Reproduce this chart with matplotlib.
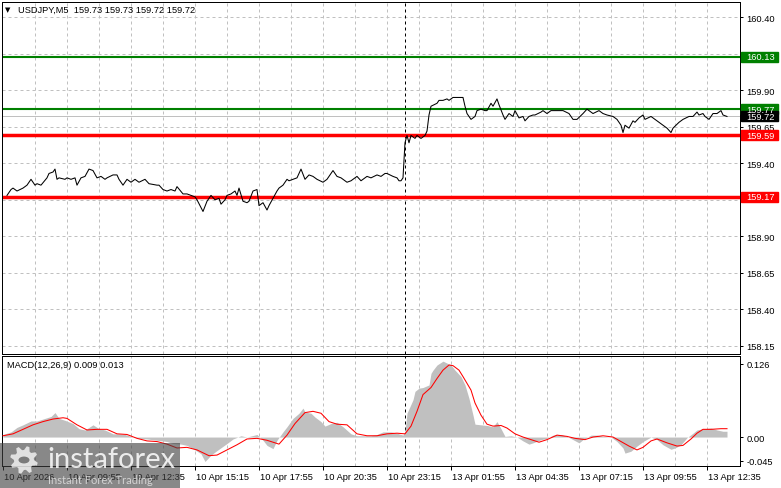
import matplotlib
matplotlib.use("Agg")
import matplotlib.pyplot as plt
import matplotlib.transforms as mtrans
from matplotlib.patches import Rectangle, Polygon, Circle
import numpy as np

plt.rcParams.update({"font.family": "Liberation Sans", "font.size": 6.7})

W, H = 781, 489

# M5 bars, bar 0 = 10 Apr 07:15
price_bar = [2, 4, 5, 7, 10, 12, 14, 16, 17, 19, 22, 23, 25, 26, 27, 28, 31, 32, 34, 36,
             37, 39, 41, 43, 45, 47, 49, 51, 52, 55, 57, 58, 60, 62, 64, 66, 68, 71, 73, 77,
             78, 80, 82, 84, 86, 87, 90, 92, 94, 96, 97, 100, 102, 104, 106, 108, 109, 111, 112, 114,
             116, 117, 118, 120, 122, 123, 125, 127, 128, 130, 132, 133, 135, 137, 138, 140, 142, 143, 145, 147,
             149, 151, 153, 155, 157, 160, 162, 165, 167, 169, 172, 174, 177, 179, 182, 184, 187, 189, 191, 192,
             195, 197, 198, 199, 200, 201, 202, 203, 204, 206, 207, 209, 211, 212, 213, 214, 217, 218, 220, 222,
             223, 225, 227, 230, 231, 232, 234, 236, 237, 239, 241, 242, 244, 245, 247, 248, 250, 251, 253, 255,
             256, 258, 260, 261, 263, 265, 266, 269, 270, 272, 274, 277, 280, 283, 285, 287, 290, 292, 294, 295,
             298, 300, 302, 305, 307, 309, 310, 311, 313, 315, 316, 318, 320, 321, 324, 325, 328, 330, 332, 334,
             335, 338, 340, 343, 345, 347, 348, 350, 351, 353, 355, 357, 359, 360, 362]
price_close = [159.18, 159.22, 159.23, 159.21, 159.23, 159.25, 159.29, 159.25, 159.26, 159.25,
               159.30, 159.33, 159.34, 159.36, 159.29, 159.30, 159.29, 159.30, 159.29, 159.30,
               159.25, 159.30, 159.31, 159.36, 159.35, 159.30, 159.31, 159.29, 159.30, 159.32,
               159.32, 159.29, 159.25, 159.29, 159.27, 159.29, 159.27, 159.29, 159.26, 159.25,
               159.25, 159.22, 159.21, 159.22, 159.21, 159.24, 159.19, 159.19, 159.18, 159.17,
               159.15, 159.07, 159.14, 159.18, 159.15, 159.16, 159.12, 159.15, 159.18, 159.19,
               159.21, 159.18, 159.23, 159.14, 159.13, 159.14, 159.21, 159.22, 159.11, 159.13,
               159.08, 159.11, 159.16, 159.21, 159.23, 159.25, 159.29, 159.28, 159.29, 159.30,
               159.36, 159.29, 159.32, 159.31, 159.29, 159.27, 159.29, 159.35, 159.31, 159.30,
               159.27, 159.28, 159.31, 159.28, 159.31, 159.30, 159.32, 159.31, 159.33, 159.33,
               159.31, 159.30, 159.28, 159.28, 159.30, 159.54, 159.59, 159.54, 159.59, 159.57,
               159.59, 159.57, 159.59, 159.62, 159.73, 159.79, 159.81, 159.83, 159.83, 159.84,
               159.83, 159.85, 159.85, 159.85, 159.79, 159.74, 159.70, 159.72, 159.76, 159.77,
               159.76, 159.76, 159.81, 159.79, 159.84, 159.80, 159.73, 159.70, 159.74, 159.72,
               159.76, 159.71, 159.72, 159.69, 159.72, 159.73, 159.73, 159.75, 159.76, 159.74,
               159.76, 159.76, 159.76, 159.74, 159.70, 159.70, 159.74, 159.77, 159.75, 159.74,
               159.76, 159.74, 159.73, 159.72, 159.70, 159.66, 159.61, 159.66, 159.64, 159.69,
               159.68, 159.71, 159.73, 159.70, 159.72, 159.71, 159.68, 159.66, 159.64, 159.61,
               159.64, 159.68, 159.70, 159.72, 159.72, 159.75, 159.73, 159.74, 159.72, 159.70,
               159.74, 159.74, 159.76, 159.73, 159.72]

hist_bar = [0, 4, 7, 10, 14, 17, 20, 24, 26, 28, 31, 35, 38, 41, 45, 48, 51, 55, 58, 61,
            65, 68, 72, 77, 82, 85, 89, 92, 95, 99, 101, 104, 107, 112, 115, 119, 122, 127, 130, 132,
            135, 137, 140, 142, 145, 148, 150, 151, 154, 156, 159, 161, 164, 167, 170, 174, 177, 180, 184, 187,
            190, 194, 197, 200, 201, 202, 205, 206, 208, 210, 213, 214, 215, 217, 219, 220, 222, 224, 226, 229,
            231, 233, 235, 236, 239, 242, 245, 247, 249, 251, 254, 257, 260, 263, 265, 269, 272, 275, 279, 282,
            285, 288, 290, 294, 297, 300, 304, 307, 310, 311, 314, 317, 320, 324, 327, 330, 334, 336, 339, 342,
            345, 347, 350, 354, 357, 360, 362]
hist_val = [0.004, 0.008, 0.015, 0.019, 0.025, 0.025, 0.028, 0.032, 0.038, 0.029,
            0.026, 0.021, 0.013, 0.011, 0.019, 0.013, 0.011, 0.005, 0.005, 0.004,
            0.000, -0.002, -0.003, -0.005, -0.007, -0.010, -0.011, -0.013, -0.018, -0.026,
            -0.038, -0.028, -0.021, -0.010, -0.003, 0.002, 0.000, 0.004, -0.005, -0.013,
            -0.018, -0.005, 0.008, 0.016, 0.029, 0.037, 0.045, 0.039, 0.037, 0.031,
            0.024, 0.017, 0.021, 0.023, 0.016, 0.005, 0.002, 0.002, 0.002, 0.004,
            0.008, 0.008, 0.006, 0.003, 0.009, 0.037, 0.058, 0.071, 0.076, 0.077,
            0.081, 0.099, 0.104, 0.112, 0.116, 0.118, 0.115, 0.112, 0.104, 0.094,
            0.081, 0.060, 0.034, 0.020, 0.019, 0.018, 0.016, 0.024, 0.013, 0.001,
            0.002, 0.000, -0.006, -0.011, -0.009, -0.004, -0.002, 0.003, 0.004, 0.001,
            -0.004, -0.009, -0.004, 0.003, 0.003, 0.001, 0.000, -0.007, -0.017, -0.025,
            -0.022, -0.014, -0.007, 0.000, -0.004, -0.012, -0.019, -0.017, -0.012, -0.001,
            0.006, 0.011, 0.013, 0.014, 0.011, 0.009, 0.009]

sig_bar = [0, 5, 10, 15, 20, 25, 30, 32, 37, 42, 47, 52, 57, 62, 67, 72, 77, 82, 87, 92,
           97, 103, 107, 112, 117, 122, 127, 132, 138, 142, 146, 151, 155, 159, 163, 167, 172, 177, 182, 187,
           192, 197, 201, 204, 207, 210, 214, 217, 220, 223, 225, 228, 230, 234, 236, 239, 242, 245, 249, 252,
           256, 260, 264, 268, 272, 277, 282, 286, 291, 295, 300, 305, 309, 313, 317, 320, 324, 327, 332, 337,
           340, 344, 347, 350, 354, 359, 362]
sig_val = [0.002, 0.005, 0.012, 0.019, 0.024, 0.028, 0.030, 0.029, 0.019, 0.011,
           0.012, 0.012, 0.005, 0.004, -0.002, -0.006, -0.007, -0.011, -0.017, -0.016,
           -0.020, -0.029, -0.028, -0.020, -0.012, -0.003, -0.002, -0.005, -0.011, 0.003,
           0.021, 0.038, 0.040, 0.037, 0.024, 0.020, 0.019, 0.005, 0.002, 0.002,
           0.005, 0.006, 0.005, 0.017, 0.040, 0.066, 0.077, 0.091, 0.104, 0.112,
           0.111, 0.104, 0.094, 0.073, 0.053, 0.034, 0.020, 0.017, 0.018, 0.014,
           0.005, 0.000, -0.004, -0.008, -0.004, 0.003, 0.001, -0.002, -0.004, 0.000,
           0.002, 0.000, -0.007, -0.014, -0.020, -0.016, -0.006, -0.003, -0.009, -0.014,
           -0.013, -0.003, 0.006, 0.012, 0.012, 0.013, 0.013]

green_levels = [160.13, 159.77]
red_levels = [159.59, 159.17]
bid = 159.72
price_ticks = [160.40, 160.15, 159.90, 159.65, 159.40, 159.15, 158.90, 158.65, 158.40, 158.15]
hidden_ticks = [160.15, 159.15]   # covered by the level boxes
date_bars = [0, 32, 64, 96, 128, 160, 192, 224, 256, 288, 320, 352]
date_labels = ["10 Apr 2026", "10 Apr 09:55", "10 Apr 12:35", "10 Apr 15:15", "10 Apr 17:55",
               "10 Apr 20:35", "10 Apr 23:15", "13 Apr 01:55", "13 Apr 04:35", "13 Apr 07:15",
               "13 Apr 09:55", "13 Apr 12:35"]
day_sep = 201
header = "USDJPY,M5  159.73 159.73 159.72 159.72"
macd_title = "MACD(12,26,9) 0.009 0.013"

GREEN = "#008000"
RED = "#FF0000"
GRID = "#C0C0C0"
LW1 = 0.72  # one pixel


def px_rect(l, t, r, b):
    return [l / W, 1 - b / H, (r - l) / W, (b - t) / H]


fig = plt.figure(figsize=(W / 100, H / 100), dpi=100)
ax = fig.add_axes(px_rect(2, 3, 740, 355))
mx = fig.add_axes(px_rect(2, 357, 740, 467), sharex=ax)

xlim = (-0.5, 368.5)
ylim = (158.095, 160.503)
mlim = (-0.045, 0.126)

for a in (ax, mx):
    for s in a.spines.values():
        s.set_linewidth(LW1)
        s.set_color("black")
    for b in range(16, 368, 16):
        a.axvline(b, color=GRID, lw=LW1, ls=(0, (3, 3)), zorder=0)
    a.axvline(day_sep, color="black", lw=LW1, ls=(0, (3, 3)), zorder=1)
    a.set_facecolor("white")

# main price panel
for p in price_ticks:
    ax.axhline(p, color=GRID, lw=LW1, ls=(0, (3, 3)), zorder=0)
ax.axhline(bid, color=GRID, lw=LW1, zorder=1)
for lv in green_levels:
    ax.axhline(lv, color=GREEN, lw=1.5, zorder=2)
for lv in red_levels:
    ax.axhline(lv, color=RED, lw=2.5, zorder=2)
ax.plot(price_bar, price_close, color="black", lw=0.75, zorder=3)

ax.set_xlim(*xlim)
ax.set_ylim(*ylim)
ax.yaxis.tick_right()
ax.set_yticks(price_ticks)
ax.set_yticklabels(["" if p in hidden_ticks else "%.2f" % p for p in price_ticks])
ax.tick_params(axis="y", length=2.2, width=LW1, pad=2.5, labelsize=6.7)
ax.tick_params(axis="x", bottom=False, labelbottom=False)

# price label boxes on the right scale
per_px = (ylim[1] - ylim[0]) / 352.0
btr = mtrans.blended_transform_factory(fig.transFigure, ax.transData)
for lv, col in [(green_levels[0], GREEN), (green_levels[1], GREEN), (bid, "black"),
                (red_levels[0], RED), (red_levels[1], RED)]:
    ax.add_patch(Rectangle((741 / W, lv - 5 * per_px), 37 / W, 10 * per_px, transform=btr,
                           color=col, clip_on=False, zorder=5))
    ax.text(746.5 / W, lv, "%.2f" % lv, transform=btr, color="white", fontsize=6.7,
            va="center", ha="left", clip_on=False, zorder=6)

# MACD panel
mx.fill_between(hist_bar, hist_val, 0, color="#C0C0C0", lw=0, zorder=1)
mx.plot(sig_bar, sig_val, color=RED, lw=0.75, zorder=3)
mx.set_ylim(*mlim)
mpx = (mlim[1] - mlim[0]) / 110.0
mx.yaxis.tick_right()
mx.set_yticks([mlim[1] - 8 * mpx, 0.0, mlim[0] + 5 * mpx])
mx.set_yticklabels(["0.126", "0.00", "-0.045"])
mx.tick_params(axis="y", length=2.2, width=LW1, pad=2.5, labelsize=6.7)

mx.set_xticks(date_bars)
mx.set_xticklabels(date_labels)
mx.tick_params(axis="x", length=2.8, width=LW1, pad=1.5, labelsize=6.7)
shift = mtrans.ScaledTranslation(1.5 / 100, 0, fig.dpi_scale_trans)
for lab in mx.get_xticklabels():
    lab.set_horizontalalignment("left")
    lab.set_transform(lab.get_transform() + shift)

# header texts
fig.text(5 / W, 1 - 10 / H, "\u25bc", fontsize=5, family="DejaVu Sans", va="center")
fig.text(18 / W, 1 - 10 / H, header, va="center", fontsize=6.7)
fig.text(7 / W, 1 - 366 / H, macd_title, va="center", fontsize=6.7)

# watermark
fig.add_artist(Rectangle((0, 0), 180 / W, 45 / H, transform=fig.transFigure,
                         color="#404040", alpha=0.62, lw=0, zorder=10))
cx, cy, r_out, r_in = 24, 461, 14, 10
ang = np.linspace(0, 2 * np.pi, 8 * 4, endpoint=False)
rr = np.array([r_out, r_out, r_in, r_in] * 8)
gx = (cx + rr * np.cos(ang + 0.2)) / W
gy = 1 - (cy + rr * np.sin(ang + 0.2)) / H
fig.add_artist(Polygon(np.column_stack([gx, gy]), closed=True, transform=fig.transFigure,
                       color="white", alpha=0.75, lw=0, zorder=11))
fig.add_artist(Circle((cx / W, 1 - cy / H), 5.5 / W, transform=fig.transFigure,
                      color="#7a7a7a", lw=0, zorder=12))
fig.text(47 / W, 1 - 460 / H, "instaforex", fontsize=21, family="Lato", color="white",
         alpha=0.85, va="center", ha="left", zorder=13)
fig.text(48 / W, 1 - 481 / H, "Instant Forex Trading", fontsize=8, family="Lato",
         color="#e0e0e0", alpha=0.85, va="center", ha="left", zorder=13)

fig.savefig("out.png", dpi=100)
